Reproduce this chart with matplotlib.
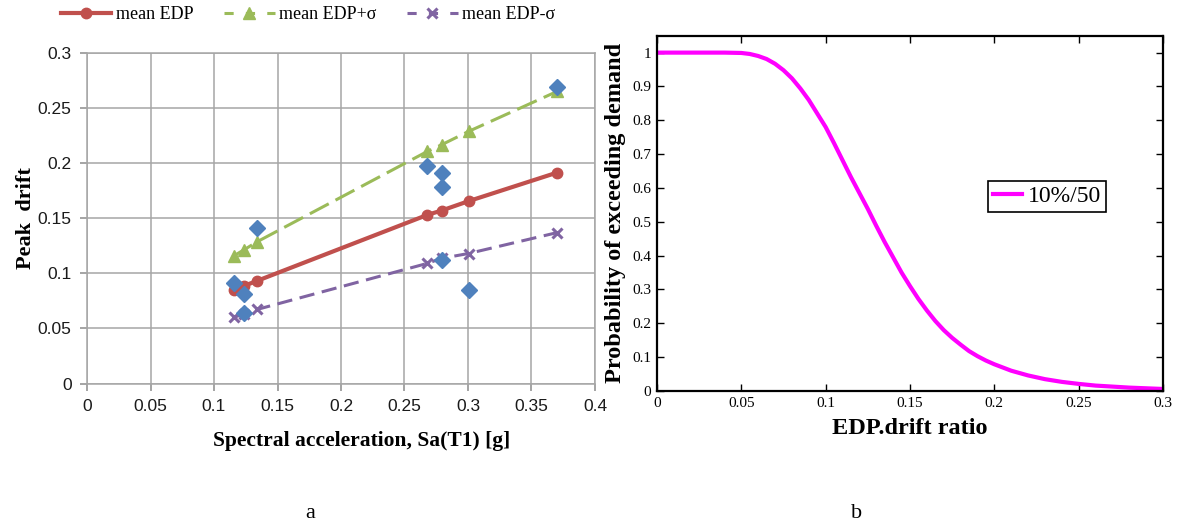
import matplotlib
matplotlib.use("Agg")
import matplotlib.pyplot as plt
from matplotlib.lines import Line2D

plt.rcParams['font.family'] = ['Liberation Serif', 'DejaVu Serif']

# ---- left panel data: peak drift vs Sa(T1) ----
sa = [0.1155, 0.1234, 0.1342, 0.2679, 0.2792, 0.3004, 0.3703]
edp_mean = [0.0848, 0.0885, 0.0933, 0.153, 0.157, 0.1655, 0.1915]
edp_plus = [0.1158, 0.1212, 0.1288, 0.2106, 0.2167, 0.2288, 0.2652]
edp_minus = [0.060, 0.063, 0.0673, 0.109, 0.1136, 0.118, 0.137]

rec_sa = [0.1155, 0.1234, 0.1234, 0.1342, 0.2679, 0.2792, 0.2792, 0.2792, 0.3004, 0.3703]
rec_drift = [0.0915, 0.0809, 0.0636, 0.1409, 0.1976, 0.1909, 0.1782, 0.1121, 0.0848, 0.269]

left_xticks = [0, 0.05, 0.1, 0.15, 0.2, 0.25, 0.3, 0.35, 0.4]
left_xlabels = ['0', '0.05', '0.1', '0.15', '0.2', '0.25', '0.3', '0.35', '0.4']
left_yticks = [0, 0.05, 0.1, 0.15, 0.2, 0.25, 0.3]
left_ylabels = ['0', '0.05', '0.1', '0.15', '0.2', '0.25', '0.3']

# ---- right panel data: probability of exceeding demand ----
drift = [0.0, 0.01, 0.02, 0.03, 0.04, 0.05, 0.055, 0.06, 0.065, 0.07, 0.075, 0.08,
         0.085, 0.09, 0.095, 0.10, 0.105, 0.11, 0.115, 0.12, 0.125, 0.13, 0.135,
         0.14, 0.145, 0.15, 0.155, 0.16, 0.165, 0.17, 0.175, 0.18, 0.185, 0.19,
         0.195, 0.20, 0.21, 0.22, 0.23, 0.24, 0.25, 0.26, 0.27, 0.28, 0.29, 0.30]
prob = [1.0, 1.0, 1.0, 1.0, 1.0, 0.999, 0.996, 0.99, 0.981, 0.967, 0.948, 0.924,
        0.894, 0.86, 0.82, 0.78, 0.732, 0.682, 0.632, 0.585, 0.538, 0.488, 0.44,
        0.395, 0.35, 0.31, 0.272, 0.238, 0.207, 0.18, 0.157, 0.137, 0.118, 0.103,
        0.09, 0.079, 0.06, 0.046, 0.035, 0.027, 0.021, 0.016, 0.013, 0.010, 0.008, 0.006]

right_xticks = [0, 0.05, 0.1, 0.15, 0.2, 0.25, 0.3]
right_xlabels = ['0', '0.05', '0.1', '0.15', '0.2', '0.25', '0.3']
right_yticks = [0, 0.1, 0.2, 0.3, 0.4, 0.5, 0.6, 0.7, 0.8, 0.9, 1]
right_ylabels = ['0', '0.1', '0.2', '0.3', '0.4', '0.5', '0.6', '0.7', '0.8', '0.9', '1']

W, H = 1181, 526
fig = plt.figure(figsize=(W / 100, H / 100), dpi=100)

# left axes (pixel box 87..595 x 53..383)
ax1 = fig.add_axes([87 / W, 1 - 383.5 / H, (595 - 87) / W, (383.5 - 53) / H])
red, green, purple, blue = '#c0504d', '#9bbb59', '#8064a2', '#4f81bd'
ax1.plot(sa, edp_mean, color=red, lw=3, marker='o', ms=7.5, zorder=3)
ax1.plot(sa, edp_plus, color=green, lw=2.2, dashes=(7, 2.5), marker='^', ms=8, zorder=3)
ax1.plot(sa, edp_minus, color=purple, lw=2.2, dashes=(5, 2.5), marker='x', ms=7, mew=2.2, zorder=3)
ax1.plot(rec_sa, rec_drift, ls='none', marker='D', ms=8.5, color=blue, zorder=4)
ax1.set_xlim(0, 0.4)
ax1.set_ylim(0, 0.3)
ax1.set_xticks(left_xticks)
ax1.set_xticklabels(left_xlabels)
ax1.set_yticks(left_yticks)
ax1.set_yticklabels(left_ylabels)
ax1.grid(True, color='#a6a6a6', lw=1.1)
ax1.set_axisbelow(True)
for s in ax1.spines.values():
    s.set_color('#a6a6a6')
    s.set_linewidth(1.1)
ax1.tick_params(direction='out', length=5, color='#8c8c8c', width=1.1, pad=6,
                labelsize=12.5, labelcolor='#1a1a1a')
for lab in ax1.get_xticklabels() + ax1.get_yticklabels():
    lab.set_family(['Liberation Sans Narrow', 'Liberation Sans', 'DejaVu Sans'])
ax1.set_xlabel('Spectral acceleration, Sa(T1) [g]', fontsize=15.5, fontweight='bold')
ax1.xaxis.set_label_coords(0.541, -0.143)
ax1.set_ylabel('Peak  drift', fontsize=16, fontweight='bold')
ax1.yaxis.set_label_coords(-0.1, 0.5)

handles = [
    Line2D([], [], color=red, lw=3, marker='o', ms=7.5),
    Line2D([], [], color=green, lw=2.2, dashes=(3, 4), marker='^', ms=8),
    Line2D([], [], color=purple, lw=2.2, dashes=(3, 4), marker='x', ms=7, mew=2.2),
]
fig.legend(handles, ['mean EDP', 'mean EDP+σ', 'mean EDP-σ'], loc='center',
           bbox_to_anchor=(308 / W, 1 - 15 / H), ncol=3, frameon=False,
           fontsize=13, handlelength=2.8, handletextpad=0.25, columnspacing=1.7)

fig.text(310 / W, 1 - 514 / H, 'a', fontsize=16, ha='center', va='center')
fig.text(857 / W, 1 - 514 / H, 'b', fontsize=16, ha='center', va='center')

# right axes (pixel box 657..1163 x 35.7..391)
ax2 = fig.add_axes([657 / W, 1 - 391 / H, (1163 - 657) / W, (391 - 35.7) / H])
ax2.plot(drift, prob, color='#ff00ff', lw=3, label='10%/50')
ax2.set_xlim(0, 0.3)
ax2.set_ylim(0, 1.05)
ax2.set_xticks(right_xticks)
ax2.set_xticklabels(right_xlabels)
ax2.set_yticks(right_yticks)
ax2.set_yticklabels(right_ylabels)
for s in ax2.spines.values():
    s.set_linewidth(1.6)
ax2.tick_params(direction='in', length=5, width=1, top=True, right=True,
                labelsize=11, pad=4)
ax2.set_xlabel('EDP.drift ratio', fontsize=17.5, fontweight='bold', labelpad=6)
ax2.set_ylabel('Probability of exceeding demand', fontsize=17.5, fontweight='bold', labelpad=5)
leg = ax2.legend(loc='upper left', bbox_to_anchor=(0.654, 0.591), borderaxespad=0,
                 fontsize=17, fancybox=False, framealpha=1, edgecolor='black',
                 handlelength=1.25, handletextpad=0.25, borderpad=0.2)
leg.get_frame().set_linewidth(1.2)

fig.savefig('out.png', dpi=100)
